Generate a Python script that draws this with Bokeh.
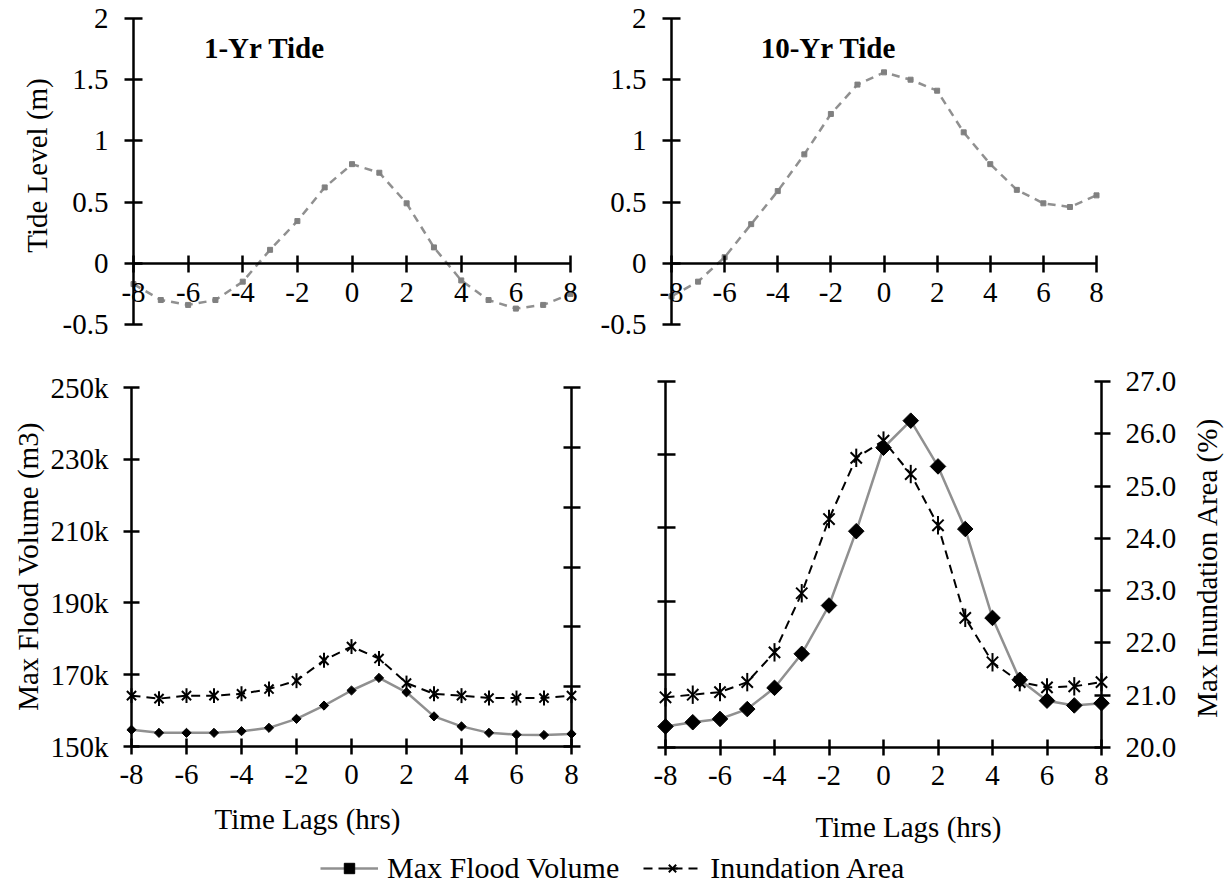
import numpy as np
from bokeh.plotting import figure
from bokeh.models import Range1d, LinearAxis, FixedTicker, Label, Legend, LegendItem
from bokeh.embed import file_html
from bokeh.resources import INLINE

# ---------------- data ----------------
lags = [-8, -7, -6, -5, -4, -3, -2, -1, 0, 1, 2, 3, 4, 5, 6, 7, 8]
tide_1yr = [-0.17, -0.30, -0.34, -0.30, -0.15, 0.11, 0.345, 0.62, 0.81, 0.74, 0.49, 0.13,
            -0.14, -0.30, -0.37, -0.34, -0.25]
tide_10yr = [-0.27, -0.15, 0.05, 0.32, 0.59, 0.89, 1.22, 1.46, 1.56, 1.50, 1.41, 1.07,
             0.81, 0.60, 0.49, 0.46, 0.555]
vol_1yr = [154650, 153800, 153800, 153800, 154270, 155200, 157700, 161400, 165600, 169100,
           165100, 158400, 155600, 153800, 153300, 153200, 153500]
area_1yr = [20.85, 20.80, 20.85, 20.85, 20.88, 20.96, 21.10, 21.44, 21.67, 21.47, 21.06,
            20.88, 20.85, 20.81, 20.81, 20.81, 20.85]
vol_10yr = [155740, 156900, 157800, 160500, 166300, 175600, 188800, 209100, 231900, 239300,
            226800, 209700, 185400, 168500, 162800, 161500, 162100]
area_10yr = [20.96, 21.01, 21.06, 21.25, 21.82, 22.95, 24.37, 25.54, 25.87, 25.23, 24.25,
             22.48, 21.63, 21.25, 21.15, 21.17, 21.25]

x_ticks = [-8, -6, -4, -2, 0, 2, 4, 6, 8]
x_tick_labels = ["-8", "-6", "-4", "-2", "0", "2", "4", "6", "8"]
tide_ticks = [-0.5, 0, 0.5, 1, 1.5, 2]
tide_tick_labels = ["-0.5", "0", "0.5", "1", "1.5", "2"]
vol_ticks = [150000, 170000, 190000, 210000, 230000, 250000]
vol_tick_labels = ["150k", "170k", "190k", "210k", "230k", "250k"]
area_ticks_1yr = [20, 21, 22, 23, 24, 25, 26]
area_ticks_10yr = [20, 21, 22, 23, 24, 25, 26, 27]
area_tick_labels = ["20.0", "21.0", "22.0", "23.0", "24.0", "25.0", "26.0", "27.0"]

titles = ["1-Yr Tide", "10-Yr Tide"]
y_title_tide = "Tide Level (m)"
y_title_vol = "Max Flood Volume (m3)"
y_title_area = "Max Inundation Area (%)"
x_title = "Time Lags (hrs)"
series_names = ["Max Flood Volume", "Inundation Area"]

# ---------------- layout ----------------
W, H = 1225, 888
FONT = "Liberation Serif"
FS = "29px"
GRAY_LINE = "#909090"
GRAY_PT = "#808080"

p = figure(width=W, height=H, output_backend="svg", toolbar_location=None,
           x_axis_location=None, y_axis_location=None, min_border=0,
           x_range=Range1d(0, W), y_range=Range1d(0, H))
p.outline_line_color = None
p.grid.visible = False
p.background_fill_color = "white"
p.border_fill_color = "white"


def xr(u0, px0, u1, px1):
    s = (u1 - u0) / (px1 - px0)
    return Range1d(u0 - px0 * s, u0 + (W - px0) * s)


def yr(v0, py0, v1, py1):
    s = (v1 - v0) / (py0 - py1)
    return Range1d(v0 - (H - py0) * s, v0 + py0 * s)


p.extra_x_ranges = {
    "tl_x": xr(-8, 133, 8, 570),
    "tr_x": xr(-8, 671, 8, 1096),
    "bl_x": xr(-8, 131, 8, 571),
    "br_x": xr(-8, 665, 8, 1101),
}
p.extra_y_ranges = {
    "tl_y": yr(-0.5, 324, 2, 18),
    "tr_y": yr(-0.5, 324, 2, 18),
    "bl_y": yr(150000, 746, 250000, 387),
    "bl_y2": yr(20, 746, 26, 387),
    "br_y": yr(150000, 747, 250000, 381),
    "br_y2": yr(20, 747, 27, 381),
}


def add_axis(side, xname, yname, loc, bounds, ticks, labels, tin, tout, standoff):
    ax = LinearAxis(x_range_name=xname, y_range_name=yname, fixed_location=loc,
                    bounds=bounds,
                    ticker=FixedTicker(ticks=ticks, minor_ticks=[]),
                    major_label_overrides={t: l for t, l in zip(ticks, labels)},
                    axis_line_color="black", axis_line_width=2.5,
                    major_tick_line_color="black", major_tick_line_width=2.5,
                    major_tick_in=tin, major_tick_out=tout,
                    minor_tick_line_color=None,
                    major_label_standoff=standoff,
                    major_label_text_font=FONT, major_label_text_font_size=FS,
                    major_label_text_color="black")
    p.add_layout(ax, side)
    return ax


# top panels
for xn, yn in [("tl_x", "tl_y"), ("tr_x", "tr_y")]:
    add_axis("below", xn, yn, 0, (-8, 8), x_ticks, x_tick_labels, 8, 9, 11)
    add_axis("left", xn, yn, -8, (-0.5, 2), tide_ticks, tide_tick_labels, 9, 9, 16)

# bottom-left panel
add_axis("below", "bl_x", "bl_y", 150000, (-8, 8), x_ticks, x_tick_labels, 8, 8, 10)
add_axis("left", "bl_x", "bl_y", -8, (150000, 250000), vol_ticks, vol_tick_labels, 8, 8, 15)
add_axis("right", "bl_x", "bl_y2", 8, (20, 26), area_ticks_1yr,
         [""] * len(area_ticks_1yr), 8, 9, 15)

# bottom-right panel
add_axis("below", "br_x", "br_y", 150000, (-8, 8), x_ticks, x_tick_labels, 8, 8, 10)
add_axis("left", "br_x", "br_y", -8, (150000, 250000), vol_ticks,
         [""] * len(vol_ticks), 10, 8, 15)
add_axis("right", "br_x", "br_y2", 8, (20, 27), area_ticks_10yr, area_tick_labels, 7, 9, 15)

# ---------------- series ----------------
for xn, yn, tide in [("tl_x", "tl_y", tide_1yr), ("tr_x", "tr_y", tide_10yr)]:
    p.line(lags, tide, x_range_name=xn, y_range_name=yn, line_color=GRAY_LINE,
           line_width=2.5, line_dash="8 6")
    p.scatter(lags, tide, x_range_name=xn, y_range_name=yn, marker="square", size=5,
              fill_color=GRAY_PT, line_color=GRAY_PT)


def flood_series(xn, yn, yn2, vol, area, dsize, ssize):
    la = p.line(lags, area, x_range_name=xn, y_range_name=yn2, line_color="black",
                line_width=2, line_dash="9 6")
    sx = p.scatter(lags, area, x_range_name=xn, y_range_name=yn2, marker="x",
                   size=ssize, line_color="black", line_width=2)
    sd = p.scatter(lags, area, x_range_name=xn, y_range_name=yn2, marker="dash",
                   angle=np.pi / 2, size=ssize * 1.15, line_color="black", line_width=2)
    lv = p.line(lags, vol, x_range_name=xn, y_range_name=yn, line_color=GRAY_LINE,
                line_width=2.5)
    sv = p.scatter(lags, vol, x_range_name=xn, y_range_name=yn, marker="square",
                   angle=np.pi / 4, size=dsize, fill_color="black", line_color="black")
    return lv, sv, la, sx, sd


r1 = flood_series("bl_x", "bl_y", "bl_y2", vol_1yr, area_1yr, 6.5, 13)
r2 = flood_series("br_x", "br_y", "br_y2", vol_10yr, area_10yr, 11, 16)

# ---------------- texts ----------------
def add_label(x, y, text, angle=0.0, bold=False):
    p.add_layout(Label(x=x, y=H - y, x_units="screen", y_units="screen", text=text,
                       angle=angle, text_font=FONT, text_font_size=FS,
                       text_font_style="bold" if bold else "normal",
                       text_align="center", text_baseline="middle", text_color="black"))


add_label(264, 47, titles[0], bold=True)
add_label(828, 47, titles[1], bold=True)
add_label(36, 165, y_title_tide, angle=np.pi / 2)
add_label(27, 566, y_title_vol, angle=np.pi / 2)
add_label(1206, 567, y_title_area, angle=np.pi / 2)
add_label(307, 818, x_title)
add_label(908, 826, x_title)

legend = Legend(items=[LegendItem(label=series_names[0], renderers=[r1[0], r1[1]]),
                       LegendItem(label=series_names[1], renderers=[r1[2], r1[3], r1[4]])],
                orientation="horizontal", location=(320, 3), glyph_width=58,
                glyph_height=26, label_standoff=9, spacing=24, padding=0, margin=0,
                border_line_color=None, background_fill_alpha=0,
                label_text_font=FONT, label_text_font_size="30px", label_text_color="black")
p.add_layout(legend)

open("out.html", "w").write(file_html(p, INLINE))
